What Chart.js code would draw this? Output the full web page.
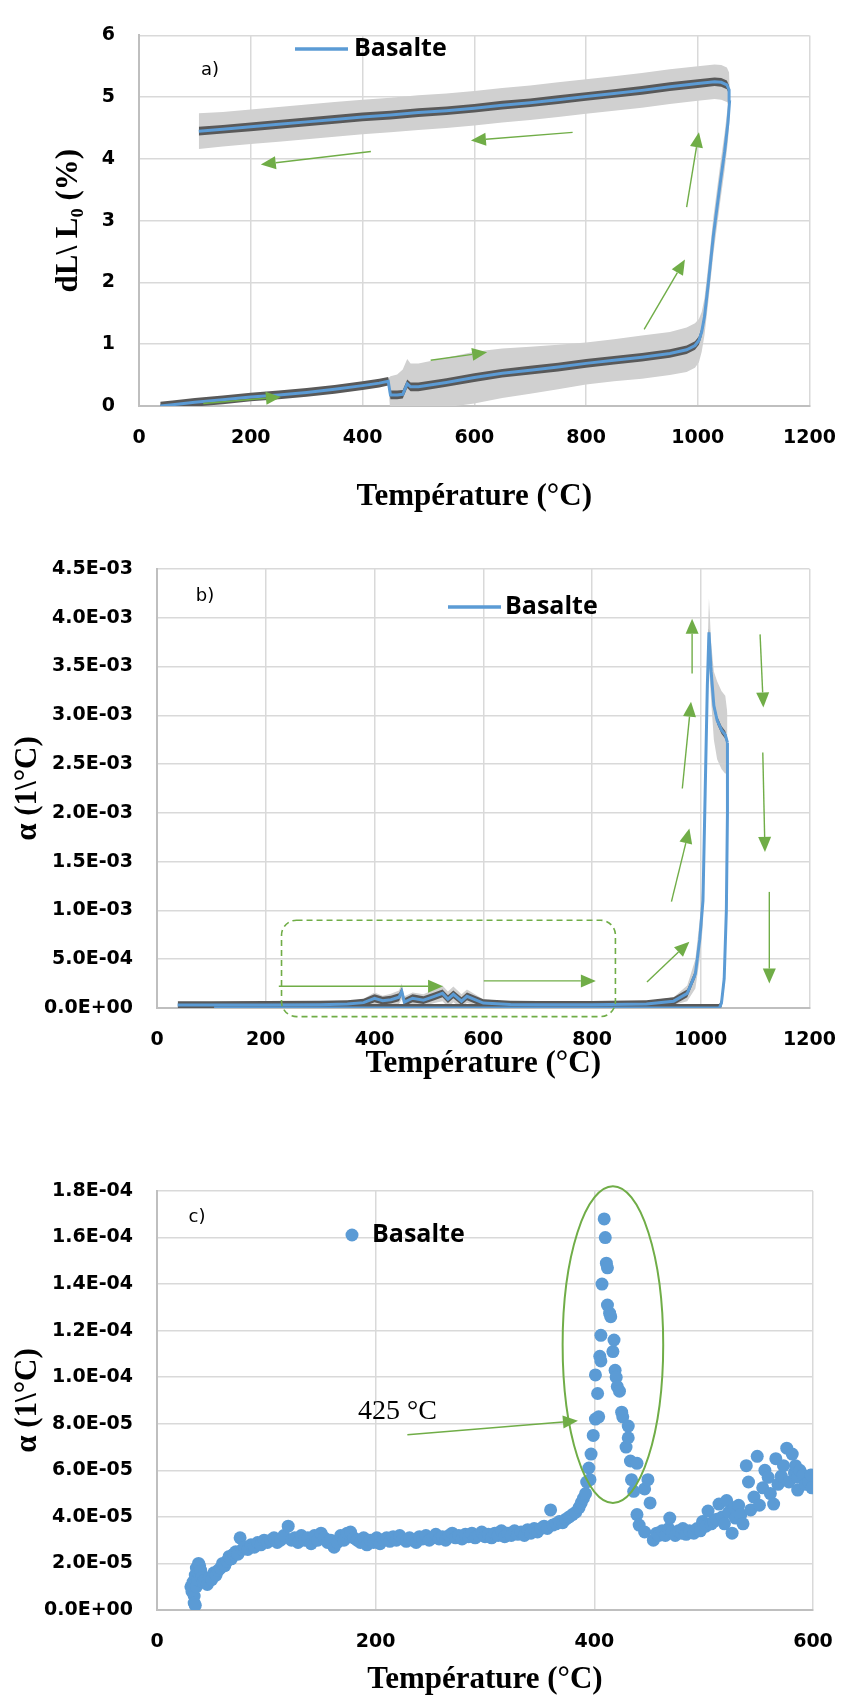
<!DOCTYPE html>
<html>
<head>
<meta charset="utf-8">
<script src="https://cdn.jsdelivr.net/npm/chart.js@4.4.1/dist/chart.umd.min.js"></script>
<style>
  html, body { margin: 0; padding: 0; background: #fff; }
  body { width: 857px; height: 1699px; position: relative; overflow: hidden; }
  canvas { position: absolute; left: 0; }
</style>
</head>
<body>
<canvas id="chartA" width="857" height="520" style="top:0"></canvas>
<canvas id="chartB" width="857" height="580" style="top:520px"></canvas>
<canvas id="chartC" width="857" height="559" style="top:1140px"></canvas>
<script>
// ---- a) dL/L0 (%) vs temperature, heating then cooling ----
const aHeatT   = [38, 60, 100, 150, 200, 250, 300, 350, 400, 430, 446, 450, 462, 472, 480, 486, 500, 550, 600, 650, 700, 750, 800, 850, 900, 950, 980, 995, 1002, 1007, 1012, 1019, 1028, 1040, 1048, 1054, 1057];
const aHeatL   = [0.00, 0.02, 0.06, 0.10, 0.145, 0.18, 0.22, 0.27, 0.33, 0.37, 0.40, 0.18, 0.18, 0.19, 0.36, 0.31, 0.31, 0.38, 0.46, 0.53, 0.58, 0.63, 0.69, 0.74, 0.79, 0.85, 0.91, 0.98, 1.06, 1.20, 1.45, 2.00, 2.77, 3.60, 4.12, 4.59, 4.95];
const aHeatErr = [0.02, 0.02, 0.02, 0.02, 0.02, 0.02, 0.02, 0.02, 0.02, 0.03, 0.05, 0.30, 0.33, 0.40, 0.40, 0.38, 0.38, 0.40, 0.42, 0.40, 0.38, 0.36, 0.34, 0.34, 0.35, 0.35, 0.36, 0.36, 0.35, 0.32, 0.30, 0.30, 0.30, 0.30, 0.30, 0.30, 0.28];
const aCoolT   = [1057, 1056, 1052, 1042, 1030, 1000, 950, 900, 850, 800, 750, 700, 650, 600, 550, 500, 450, 400, 350, 300, 250, 200, 150, 107];
const aCoolL   = [4.95, 5.12, 5.20, 5.24, 5.25, 5.22, 5.17, 5.11, 5.06, 5.01, 4.96, 4.91, 4.87, 4.82, 4.78, 4.75, 4.71, 4.68, 4.64, 4.60, 4.56, 4.52, 4.48, 4.45];
const aCoolErr = [0.28, 0.28, 0.28, 0.28, 0.28, 0.28, 0.28, 0.28, 0.28, 0.28, 0.28, 0.28, 0.28, 0.28, 0.28, 0.28, 0.28, 0.28, 0.28, 0.28, 0.28, 0.28, 0.28, 0.29];
const aDarkErr = 0.07;
const aTicksY  = ['0', '1', '2', '3', '4', '5', '6'];
// arrows [x1, y1, x2, y2] in data units
const aArrows = [[115, 0.04, 254, 0.145], [522, 0.74, 623, 0.87], [904, 1.24, 977, 2.37], [980, 3.22, 1002, 4.43], [776, 4.43, 594, 4.30], [415, 4.12, 218, 3.91]];

// ---- b) alpha (1e-4 /°C) vs temperature ----
const bHeatT   = [38, 100, 200, 300, 350, 380, 400, 415, 430, 445, 450, 455, 470, 490, 510, 525, 535, 545, 560, 570, 600, 650, 700, 800, 900, 950, 975, 990, 998, 1004, 1008, 1012, 1015, 1019, 1024, 1030, 1038, 1045, 1049];
const bHeatA   = [0.30, 0.30, 0.32, 0.34, 0.40, 0.55, 1.00, 0.75, 0.85, 1.10, 1.70, 0.60, 1.00, 0.80, 1.20, 1.50, 0.90, 1.40, 0.70, 1.20, 0.50, 0.35, 0.33, 0.33, 0.40, 0.70, 1.50, 3.50, 7.0, 11.0, 22.0, 33.0, 38.5, 34.5, 31.0, 29.5, 28.5, 28.0, 27.2];
const bHeatErr = [0.2, 0.2, 0.2, 0.2, 0.25, 0.4, 0.6, 0.5, 0.6, 0.7, 0.8, 0.6, 0.6, 0.6, 0.7, 0.8, 0.8, 0.8, 0.7, 0.7, 0.4, 0.3, 0.3, 0.3, 0.3, 0.4, 0.8, 1.5, 2.0, 2.5, 3.0, 3.0, 3.5, 3.0, 3.5, 4.0, 4.0, 4.0, 3.0];
const bCoolT   = [1049, 1049, 1047, 1043, 1038, 1034, 900, 600, 300, 105];
const bCoolA   = [27.2, 20.0, 10.0, 3.0, 0.5, 0.0, 0.0, 0.0, 0.0, 0.0];
const bCoolErr = [3.0, 2.0, 1.5, 1.0, 0.5, 0.2, 0.2, 0.2, 0.2, 0.2];
const bDarkErr = 0.4;
const bArrows = [[224, 2.23, 526, 2.23], [601, 2.78, 807, 2.78], [901, 2.67, 979, 6.8], [946, 10.9, 979, 18.4], [966, 22.5, 982, 31.4], [984, 34.3, 984, 39.9], [1109, 38.3, 1115, 30.8], [1114, 26.2, 1118, 16.0], [1126, 11.9, 1126, 2.5]];
const bBox = {x1: 229, x2: 843, y1: 9.0, y2: -0.88};

// ---- c) alpha (1e-5 /°C), 0-600 °C ----
const cT = [31, 32, 33, 34, 34, 35, 35, 36, 36, 37, 38, 38, 39, 40, 41, 42, 44, 46, 48, 50, 52, 54, 56, 58, 60, 62, 64, 66, 68, 70, 72, 74, 76, 78, 80, 83, 86, 89, 92, 95, 98, 101, 104, 107, 110, 113, 116, 120, 123, 126, 129, 132, 135, 138, 141, 144, 147, 150, 153, 156, 159, 162, 165, 168, 171, 174, 177, 180, 183, 186, 189, 192, 195, 198, 201, 204, 207, 210, 213, 216, 219, 222, 225, 228, 231, 234, 237, 240, 243, 246, 249, 252, 255, 258, 261, 264, 267, 270, 273, 276, 279, 282, 285, 288, 291, 294, 297, 300, 303, 306, 309, 312, 315, 318, 321, 324, 327, 330, 333, 336, 339, 342, 345, 348, 351, 354, 357, 360, 362, 365, 368, 371, 374, 377, 380, 383, 386, 388, 390, 392, 393, 395, 396, 397, 399, 401, 401, 403, 404, 405, 406, 406, 407, 409, 410, 411, 412, 412, 414, 415, 417, 418, 419, 420, 421, 423, 425, 426, 429, 431, 431, 433, 434, 436, 439, 439, 441, 446, 446, 449, 451, 454, 457, 459, 462, 465, 468, 469, 471, 474, 477, 480, 481, 484, 487, 491, 494, 497, 499, 502, 504, 507, 509, 512, 514, 517, 519, 521, 523, 526, 528, 529, 532, 534, 536, 539, 541, 543, 546, 549, 551, 554, 556, 559, 561, 564, 566, 568, 571, 573, 576, 578, 581, 583, 584, 586, 586, 588, 591, 593, 596, 598, 599];
const cA = [1.0, 0.8, 1.2, 0.6, 0.3, 0.2, 1.5, 1.0, 1.8, 1.3, 1.6, 2.0, 1.9, 1.7, 1.4, 1.2, 1.3, 1.1, 1.4, 1.3, 1.6, 1.5, 1.7, 1.8, 2.0, 1.9, 2.1, 2.3, 2.2, 2.4, 2.5, 2.4, 3.1, 2.6, 2.7, 2.6, 2.8, 2.7, 2.9, 2.8, 3.0, 2.9, 3.0, 3.1, 2.9, 3.0, 3.2, 3.6, 3.0, 3.1, 2.9, 3.2, 3.0, 3.1, 2.85, 3.2, 3.0, 3.3, 3.1, 2.9, 3.0, 2.7, 2.9, 3.2, 3.0, 3.3, 3.35, 3.1, 3.0, 2.9, 3.1, 2.8, 3.0, 2.9, 3.1, 2.85, 3.0, 3.1, 2.95, 3.15, 3.0, 3.2, 3.05, 2.95, 3.1, 3.0, 2.9, 3.15, 3.05, 3.2, 3.0, 3.1, 3.25, 3.05, 3.15, 3.0, 3.2, 3.3, 3.1, 3.2, 3.05, 3.25, 3.15, 3.3, 3.1, 3.2, 3.35, 3.15, 3.25, 3.1, 3.3, 3.2, 3.4, 3.15, 3.3, 3.2, 3.4, 3.25, 3.35, 3.2, 3.45, 3.3, 3.5, 3.35, 3.5, 3.6, 3.5, 4.3, 3.65, 3.7, 3.8, 3.75, 3.9, 4.0, 4.1, 4.2, 4.4, 4.6, 4.8, 5.0, 5.5, 6.1, 5.6, 6.7, 7.5, 8.2, 10.1, 9.3, 8.3, 10.9, 11.8, 10.7, 14.0, 16.8, 16.0, 14.9, 14.7, 13.1, 12.75, 12.6, 11.1, 11.6, 10.3, 10.0, 9.6, 9.4, 8.5, 8.3, 7.0, 7.9, 7.4, 6.4, 5.6, 5.1, 6.3, 4.1, 3.65, 5.2, 3.35, 5.6, 4.6, 3.0, 3.3, 3.2, 3.4, 3.2, 3.5, 3.95, 3.35, 3.2, 3.4, 3.3, 3.5, 3.25, 3.4, 3.3, 3.5, 3.4, 3.8, 3.6, 4.25, 3.7, 3.8, 3.9, 4.55, 4.0, 3.7, 4.7, 4.2, 3.3, 4.4, 3.95, 4.5, 4.1, 3.7, 6.2, 5.5, 4.3, 4.85, 6.6, 4.5, 5.25, 6.0, 5.7, 5.0, 4.55, 6.5, 5.4, 5.75, 6.2, 6.95, 5.5, 6.7, 5.9, 6.2, 5.7, 5.15, 6.0, 5.8, 5.4, 5.5, 5.8, 5.25];
const cArrow = [[229, 7.53, 385, 8.13]];
const cRing = {x: 417, y: 11.4, rx: 46, ry: 6.8};

const BLUE = '#5b9bd5', DARK = '#595959', LIGHT = '#d0d0d0', GREEN = '#70ad47';
const GRID = '#d9d9d9', AXIS = '#bfbfbf';
const tickFont = {family: '"DejaVu Sans", sans-serif', size: 19, weight: 'bold'};
const titleFont = {family: '"Liberation Serif", "Times New Roman", serif', size: 31, weight: 'bold', lineHeight: 1.2};

function pts(xs, ys, unit, err, sign) {
  return xs.map((x, i) => {
    const e = Array.isArray(err) ? err[i] : err;
    return {x: x, y: (ys[i] + sign * e) * unit};
  });
}
function line(xs, ys, unit, label) {
  return {label: label, data: pts(xs, ys, unit, 0, 0), showLine: true, borderColor: BLUE, borderWidth: 3, pointRadius: 0, fill: false, tension: 0};
}
function band(xs, ys, unit, err, color) {
  const base = {showLine: true, borderWidth: 0, borderColor: 'transparent', pointRadius: 0, tension: 0};
  return [
    Object.assign({data: pts(xs, ys, unit, err, 1), fill: false}, base),
    Object.assign({data: pts(xs, ys, unit, err, -1), fill: '-1', backgroundColor: color}, base)
  ];
}
function sci(v) {
  const [m, e] = v.toExponential(1).split('e');
  const n = Math.abs(parseInt(e, 10));
  return m + 'E' + (e[0] === '-' ? '-' : '+') + (n < 10 ? '0' + n : n);
}

function arrow(ctx, x1, y1, x2, y2) {
  const a = Math.atan2(y2 - y1, x2 - x1), L = 15, W = 6.5;
  const bx = x2 - L * Math.cos(a), by = y2 - L * Math.sin(a);
  ctx.beginPath(); ctx.moveTo(x1, y1); ctx.lineTo(bx, by); ctx.stroke();
  ctx.beginPath(); ctx.moveTo(x2, y2);
  ctx.lineTo(bx - W * Math.sin(a), by + W * Math.cos(a));
  ctx.lineTo(bx + W * Math.sin(a), by - W * Math.cos(a));
  ctx.closePath(); ctx.fill();
}

// panel letter, legend, arrows and green marks
const extras = {
  id: 'extras',
  afterDraw(chart, args, o) {
    const ctx = chart.ctx, sx = chart.scales.x, sy = chart.scales.y, u = o.unit || 1;
    const px = v => sx.getPixelForValue(v), py = v => sy.getPixelForValue(v * u);
    ctx.save();
    ctx.fillStyle = '#000';
    ctx.textBaseline = 'middle';
    ctx.textAlign = 'center';
    ctx.font = '18px "DejaVu Sans", sans-serif';
    ctx.fillText(o.tag.text, o.tag.x, o.tag.y);

    const k = o.key;
    if (k.dot) {
      ctx.fillStyle = BLUE;
      ctx.beginPath(); ctx.arc(k.x + 6, k.y, 6.5, 0, Math.PI * 2); ctx.fill();
    } else {
      ctx.strokeStyle = BLUE; ctx.lineWidth = 3.5;
      ctx.beginPath(); ctx.moveTo(k.x, k.y); ctx.lineTo(k.x + 53, k.y); ctx.stroke();
    }
    ctx.fillStyle = '#000';
    ctx.textAlign = 'left';
    ctx.font = 'bold 25px "Open Sans", sans-serif';
    ctx.fillText(chart.data.datasets[0].label, k.tx, k.y);

    ctx.strokeStyle = GREEN; ctx.fillStyle = GREEN; ctx.lineWidth = 1.4;
    (o.arrows || []).forEach(r => arrow(ctx, px(r[0]), py(r[1]), px(r[2]), py(r[3])));

    if (o.box) {
      const b = o.box;
      ctx.setLineDash([6, 4]); ctx.lineWidth = 1.6;
      ctx.beginPath();
      ctx.roundRect(px(b.x1), py(b.y1), px(b.x2) - px(b.x1), py(b.y2) - py(b.y1), 15);
      ctx.stroke();
      ctx.setLineDash([]);
    }
    if (o.ring) {
      const r = o.ring;
      ctx.lineWidth = 2;
      ctx.beginPath();
      ctx.ellipse(px(r.x), py(r.y), px(r.x + r.rx) - px(r.x), py(r.y) - py(r.y + r.ry), 0, 0, Math.PI * 2);
      ctx.stroke();
    }
    if (o.note) {
      ctx.fillStyle = '#000';
      ctx.textAlign = 'center';
      ctx.font = '28px "Liberation Serif", "Times New Roman", serif';
      ctx.fillText(o.note.text, px(o.note.x), py(o.note.y));
    }
    ctx.restore();
  }
};

function options(c) {
  return {
    responsive: false,
    animation: false,
    layout: {padding: c.pad},
    plugins: {legend: {display: false}, tooltip: {enabled: false}, extras: c.extras},
    scales: {
      x: {
        type: 'linear', min: 0, max: c.xMax,
        ticks: {stepSize: 200, font: tickFont, color: '#000', padding: 21, maxRotation: 0, autoSkip: false, callback: v => String(v)},
        grid: {color: GRID, lineWidth: 1.5, drawTicks: false},
        border: {color: AXIS, width: 2},
        title: {display: true, text: 'Température (°C)', font: titleFont, color: '#000', padding: {top: 0, bottom: c.xTitlePad}},
        afterFit: s => { s.height = c.xH; }
      },
      y: {
        type: 'linear', min: 0, max: c.yMax,
        ticks: {stepSize: c.yStep, font: tickFont, color: '#000', padding: 24, autoSkip: false, callback: c.fmt},
        grid: {color: GRID, lineWidth: 1.5, drawTicks: false},
        border: {color: AXIS, width: 2},
        title: {display: true, text: c.yTitle, font: titleFont, color: '#000', padding: {top: c.yTitlePad, bottom: 0}},
        afterFit: s => { s.width = c.yW; }
      }
    }
  };
}

// a)
new Chart(document.getElementById('chartA'), {
  type: 'scatter',
  data: {
    datasets: [
      line(aHeatT, aHeatL, 1, 'Basalte'),
      line(aCoolT, aCoolL, 1),
      ...band(aHeatT, aHeatL, 1, aDarkErr, DARK),
      ...band(aCoolT, aCoolL, 1, aDarkErr, DARK),
      ...band(aHeatT, aHeatL, 1, aHeatErr, LIGHT),
      ...band(aCoolT, aCoolL, 1, aCoolErr, LIGHT)
    ]
  },
  options: options({
    pad: {top: 19, right: 33, left: 0, bottom: 0},
    xMax: 1200, xH: 114, xTitlePad: 4,
    yMax: 6, yStep: 1, yW: 139, yTitlePad: 50,
    yTitle: 'dL\\ L₀ (%)',
    fmt: v => aTicksY[Math.round(v)],
    extras: {tag: {text: 'a)', x: 210, y: 70}, key: {x: 295, y: 49, tx: 354}, arrows: aArrows}
  }),
  plugins: [extras]
});

// b)
new Chart(document.getElementById('chartB'), {
  type: 'scatter',
  data: {
    datasets: [
      line(bHeatT, bHeatA, 1e-4, 'Basalte'),
      line(bCoolT, bCoolA, 1e-4),
      ...band(bHeatT, bHeatA, 1e-4, bDarkErr, DARK),
      ...band(bCoolT, bCoolA, 1e-4, bDarkErr, DARK),
      ...band(bHeatT, bHeatA, 1e-4, bHeatErr, LIGHT),
      ...band(bCoolT, bCoolA, 1e-4, bCoolErr, LIGHT)
    ]
  },
  options: options({
    pad: {top: 49, right: 42, left: 0, bottom: 0},
    xMax: 1200, xH: 92, xTitlePad: 17,
    yMax: 4.5e-3, yStep: 5e-4, yW: 157, yTitlePad: 9,
    yTitle: 'α (1\\°C)',
    fmt: sci,
    extras: {unit: 1e-4, tag: {text: 'b)', x: 205, y: 76}, key: {x: 448, y: 87, tx: 505}, arrows: bArrows, box: bBox}
  }),
  plugins: [extras]
});

// c)
new Chart(document.getElementById('chartC'), {
  type: 'scatter',
  data: {
    datasets: [{
      label: 'Basalte',
      data: pts(cT, cA, 1e-5, 0, 0),
      pointRadius: 6.5, pointBackgroundColor: BLUE, pointBorderWidth: 0, showLine: false
    }]
  },
  options: options({
    pad: {top: 51, right: 44, left: 0, bottom: 0},
    xMax: 600, xH: 89, xTitlePad: 0,
    yMax: 1.8e-4, yStep: 2e-5, yW: 157, yTitlePad: 9,
    yTitle: 'α (1\\°C)',
    fmt: sci,
    extras: {unit: 1e-5, tag: {text: 'c)', x: 197, y: 77}, key: {x: 346, y: 95, tx: 372, dot: true}, arrows: cArrow, ring: cRing, note: {text: '425 °C', x: 220, y: 8.5}}
  }),
  plugins: [extras]
});
</script>
</body>
</html>
